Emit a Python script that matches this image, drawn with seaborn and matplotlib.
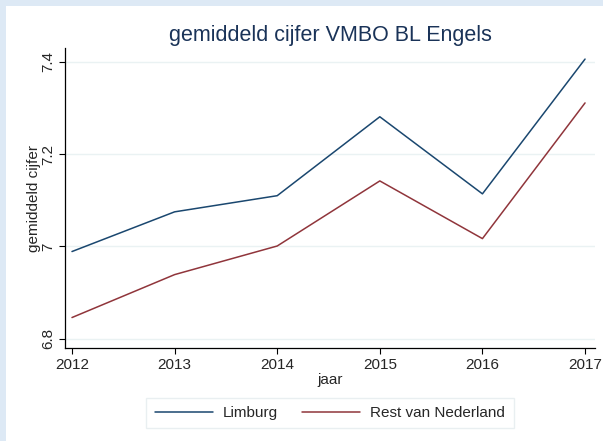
import seaborn as sns
import matplotlib.pyplot as plt
import pandas as pd
from matplotlib.patches import Rectangle

# data
years = [2012, 2013, 2014, 2015, 2016, 2017]
limburg = [6.989, 7.075, 7.110, 7.281, 7.114, 7.406]
rest_nl = [6.846, 6.939, 7.001, 7.142, 7.017, 7.311]
series_names = ["Limburg", "Rest van Nederland"]
y_ticks = [6.8, 7.0, 7.2, 7.4]
y_ticklabels = ["6.8", "7", "7.2", "7.4"]

df = pd.DataFrame({"jaar": years * 2,
                   "cijfer": limburg + rest_nl,
                   "regio": [series_names[0]] * 6 + [series_names[1]] * 6})

sns.set_style("white")
plt.rcParams["font.family"] = ["Liberation Sans", "DejaVu Sans"]

W, H = 603, 441
fig = plt.figure(figsize=(W / 100, H / 100), dpi=100)
fig.patch.set_facecolor("#dde9f5")
# white panel, light blue strip on top and left
fig.patches.append(Rectangle((6 / W, 0), 1, 1 - 6 / H, transform=fig.transFigure,
                             facecolor="white", edgecolor="none", zorder=-5))

ax = fig.add_axes([65 / W, 1 - 348 / H, (595 - 65) / W, (348 - 48) / H])
ax.set_facecolor("white")

sns.lineplot(data=df, x="jaar", y="cijfer", hue="regio",
             palette=["#1a476f", "#90353b"], linewidth=1.1, ax=ax)

ax.set_xlim(2011.932, 2017.097)
ax.set_ylim(6.78, 7.43)
ax.set_xticks(years)
ax.set_xticklabels([str(y) for y in years], fontsize=11)
ax.set_yticks(y_ticks)
ax.set_yticklabels(y_ticklabels, fontsize=11, rotation=90, va="center")
ax.tick_params(axis="both", direction="out", length=4, width=0.8, color="black",
               left=True, bottom=True, pad=3)
for y in y_ticks:
    ax.axhline(y, color="#eaf2f3", linewidth=1, zorder=0)

for s in ["top", "right"]:
    ax.spines[s].set_visible(False)
for s in ["left", "bottom"]:
    ax.spines[s].set_color("black")
    ax.spines[s].set_linewidth(0.9)

ax.set_xlabel("jaar", fontsize=11, labelpad=1)
ax.set_ylabel("gemiddeld cijfer", fontsize=11, labelpad=0)
fig.text(330 / W, 1 - 35 / H, "gemiddeld cijfer VMBO BL Engels",
         fontsize=15.5, color="#1a3358", ha="center", va="center")

ax.legend(loc="center", bbox_to_anchor=(330 / W, 1 - 413 / H),
          bbox_transform=fig.transFigure, ncol=2, frameon=True,
          fontsize=11, handlelength=3.8, handletextpad=0.65, columnspacing=1.6,
          fancybox=False, edgecolor="#e4ecee", borderpad=0.55)

fig.savefig("out.png", dpi=100)
